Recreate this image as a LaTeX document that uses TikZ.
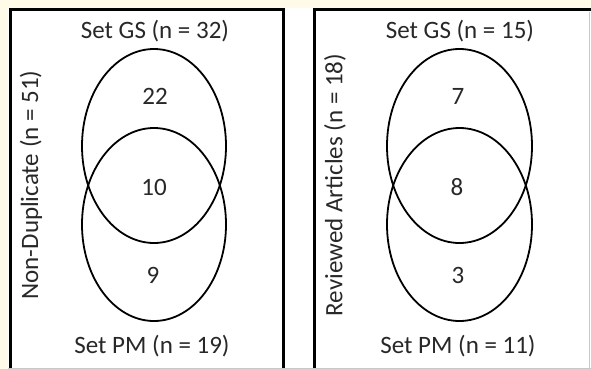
\documentclass[tikz,border=0pt]{standalone}
\usepackage{fontspec}
\setmainfont{Carlito}
\definecolor{bgyellow}{RGB}{255,251,232}
\definecolor{txt}{RGB}{40,40,40}
\definecolor{edgegray}{RGB}{200,200,200}
\begin{document}
\begin{tikzpicture}[x=1pt,y=-1pt,
  lbl/.style={text=txt,font=\fontsize{25}{29}\selectfont,inner sep=0pt,anchor=center},
  boxframe/.style={draw=black,line width=3pt},
  venn/.style={draw=black,line width=1.8pt}]
\useasboundingbox (0,0) rectangle (591,369);
\fill[bgyellow] (0,0) rectangle (591,369);
\fill[white] (8,8) rectangle (591,369);
\begin{scope}
\clip (0,0) rectangle (591,369);
\draw[boxframe] (10,10) rectangle (283.5,380);
\draw[boxframe] (314.5,10) rectangle (600,380);
\draw[edgegray,line width=1pt] (589.5,12) -- (589.5,369);
\draw[edgegray,line width=1pt] (8,368.5) -- (591,368.5);
\end{scope}
% left venn
\draw[venn] (154,146) ellipse (72pt and 97pt);
\draw[venn] (154,224.5) ellipse (72pt and 96.5pt);
\node[lbl] (gs1) at (155,31) {Set GS (n = 32)};
\node[lbl] (a1) at (155,96) {22};
\node[lbl] (b1) at (154,187) {10};
\node[lbl] (c1) at (153,275) {9};
\node[lbl] (pm1) at (152,346) {Set PM (n = 19)};
\node[lbl,rotate=90] (side1) at (31,185) {Non-Duplicate (n = 51)};
% right venn
\draw[venn] (459.5,146) ellipse (72.5pt and 97pt);
\draw[venn] (459.5,224.5) ellipse (72.5pt and 96.5pt);
\node[lbl] (gs2) at (460,31) {Set GS (n = 15)};
\node[lbl] (a2) at (458,96) {7};
\node[lbl] (b2) at (457,187) {8};
\node[lbl] (c2) at (458,275) {3};
\node[lbl] (pm2) at (458,346) {Set PM (n = 11)};
\node[lbl,rotate=90] (side2) at (335,185) {Reviewed Articles (n = 18)};
\end{tikzpicture}
\end{document}
